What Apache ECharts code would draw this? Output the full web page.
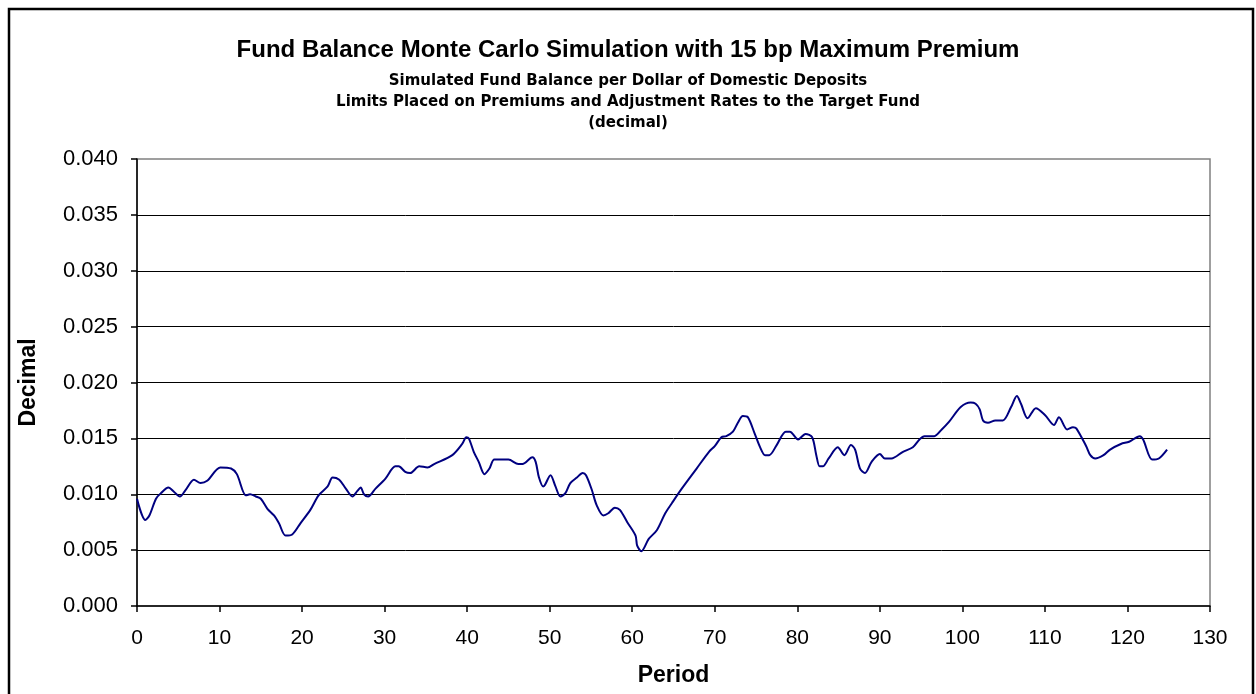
<!DOCTYPE html>
<html>
<head>
<meta charset="utf-8">
<script src="https://cdn.jsdelivr.net/npm/echarts@6/dist/echarts.min.js"></script>
<style>
  html, body { margin: 0; padding: 0; background: #fff; }
  #chart { width: 1256px; height: 694px; }
</style>
</head>
<body>
<div id="chart"></div>
<script>
// period and simulated fund balance
var periods = [0, 1, 1.5, 2.3, 2.9, 3.8, 4.5, 5.2, 5.9, 6.9, 7.7, 8.5, 10.1, 11.4, 12.1, 13.2, 13.7, 14.4, 15, 15.8,
  16.6, 17.2, 18, 18.8, 19.8, 21, 22, 23.1, 23.7, 24.5, 25.3, 26.1, 26.7, 27.1, 27.5, 28, 28.9, 30.1, 31.3, 31.7,
  32.5, 33.1, 34.2, 35.2, 36, 38.2, 39.4, 39.9, 40.2, 40.8, 41.4, 42.1, 42.7, 43.3, 45, 46.2, 46.7, 47.9, 48.3, 48.7,
  49.2, 49.4, 50.1, 50.7, 51.3, 51.9, 52.5, 53.3, 54, 54.4, 55.1, 55.7, 56.5, 57.1, 57.9, 58.5, 59.4, 60.4, 60.6, 61.1,
  62, 63, 64, 64.8, 66, 67.8, 69.3, 70, 70.8, 71.4, 72.2, 72.8, 73.4, 74, 74.8, 75.5, 76.1, 76.6, 77.5, 78.6,
  79.1, 80.1, 81, 81.8, 82.3, 82.7, 83.1, 83.8, 84.9, 85.7, 86.5, 87, 87.6, 88.2, 89, 90, 90.6, 91.4, 92.8, 94,
  94.8, 95.4, 96.6, 97.5, 98.4, 99.8, 101, 101.6, 102.1, 102.5, 103.1, 104, 104.9, 105.9, 106.6, 107.1, 107.9, 108.9, 110, 111.1,
  111.7, 112.7, 113.4, 113.8, 115, 115.5, 116.1, 117.1, 117.9, 119.2, 120.2, 121.5, 121.9, 123, 123.8, 124.8];
var balance = [0.0096, 0.0077, 0.0081, 0.0096, 0.0101, 0.0106, 0.0102, 0.0098, 0.0104, 0.0113, 0.0110, 0.0112, 0.0124, 0.0123, 0.0118, 0.0099, 0.0100, 0.0098, 0.0096, 0.0087,
  0.0081, 0.0074, 0.0063, 0.0064, 0.0074, 0.0086, 0.0099, 0.0107, 0.0115, 0.0113, 0.0105, 0.0098, 0.0103, 0.0106, 0.0100, 0.0098, 0.0105, 0.0114, 0.0125, 0.0125,
  0.0120, 0.0119, 0.0125, 0.0124, 0.0127, 0.0135, 0.0145, 0.0151, 0.0150, 0.0138, 0.0129, 0.0118, 0.0123, 0.0131, 0.0131, 0.0127, 0.0127, 0.0133, 0.0129, 0.0115,
  0.0107, 0.0108, 0.0117, 0.0107, 0.0098, 0.0101, 0.0110, 0.0115, 0.0119, 0.0117, 0.0104, 0.0090, 0.0081, 0.0083, 0.0088, 0.0086, 0.0075, 0.0063, 0.0054, 0.0049,
  0.0060, 0.0068, 0.0083, 0.0092, 0.0105, 0.0123, 0.0138, 0.0143, 0.0151, 0.0152, 0.0156, 0.0164, 0.0170, 0.0169, 0.0155, 0.0142, 0.0135, 0.0135, 0.0144, 0.0156,
  0.0156, 0.0149, 0.0154, 0.0151, 0.0135, 0.0125, 0.0125, 0.0132, 0.0142, 0.0135, 0.0144, 0.0140, 0.0123, 0.0119, 0.0129, 0.0136, 0.0132, 0.0132, 0.0138, 0.0142,
  0.0149, 0.0152, 0.0152, 0.0158, 0.0165, 0.0178, 0.0182, 0.0181, 0.0176, 0.0166, 0.0164, 0.0166, 0.0166, 0.0178, 0.0188, 0.0181, 0.0168, 0.0177, 0.0171, 0.0162,
  0.0169, 0.0158, 0.0160, 0.0159, 0.0143, 0.0135, 0.0132, 0.0135, 0.0140, 0.0145, 0.0147, 0.0152, 0.0149, 0.0131, 0.0132, 0.0140];

var mainTitle = 'Fund Balance Monte Carlo Simulation with 15 bp Maximum Premium';
var subTitles = [
  'Simulated Fund Balance per Dollar of Domestic Deposits',
  'Limits Placed on Premiums and Adjustment Rates to the Target Fund',
  '(decimal)'
];

var seriesData = [];
for (var i = 0; i < periods.length; i++) {
  seriesData.push([periods[i], balance[i]]);
}

var myChart = echarts.init(document.getElementById('chart'), null, { renderer: 'canvas' });
var font = 'Liberation Sans, Arial, sans-serif';
var option = {
  backgroundColor: '#fff',
  animation: false,
  title: [{
    text: mainTitle,
    left: 'center',
    top: 33,
    textStyle: { fontFamily: font, fontSize: 24, fontWeight: 'bold', color: '#000' }
  }, {
    text: subTitles.join('\n'),
    left: 'center',
    top: 66,
    textStyle: { fontFamily: 'DejaVu Sans', fontSize: 15, fontWeight: 'bold', color: '#000', lineHeight: 21, align: 'center' }
  }],
  graphic: [{
    type: 'rect',
    shape: { x: 9, y: 9, width: 1244, height: 700 },
    style: { fill: 'none', stroke: '#000', lineWidth: 2.5 },
    silent: true
  }],
  grid: {
    left: 137, right: 46, top: 159, bottom: 88,
    show: true, borderColor: '#808080', borderWidth: 1.5, backgroundColor: 'transparent'
  },
  xAxis: {
    type: 'value',
    min: 0, max: 130, interval: 10,
    name: 'Period',
    nameLocation: 'middle',
    nameGap: 58,
    nameTextStyle: { fontFamily: font, fontSize: 23, fontWeight: 'bold', color: '#000' },
    axisLine: { lineStyle: { color: '#000', width: 1.5 } },
    axisTick: { length: 6, lineStyle: { color: '#000', width: 1.5 } },
    axisLabel: { fontFamily: font, fontSize: 21, color: '#000', margin: 22 },
    splitLine: { show: false }
  },
  yAxis: {
    type: 'value',
    min: 0, max: 0.04, interval: 0.005,
    name: 'Decimal',
    nameLocation: 'middle',
    nameGap: 97,
    nameRotate: 90,
    nameTextStyle: { fontFamily: font, fontSize: 23, fontWeight: 'bold', color: '#000' },
    axisLine: { show: true, lineStyle: { color: '#000', width: 1.5 } },
    axisTick: { show: true, length: 6, lineStyle: { color: '#000', width: 1.5 } },
    axisLabel: {
      fontFamily: font, fontSize: 22, color: '#000', margin: 19,
      formatter: function (v) { return v.toFixed(3); }
    },
    splitLine: { show: true, showMinLine: false, showMaxLine: false, lineStyle: { color: '#000', width: 1 } }
  },
  series: [{
    type: 'line',
    data: seriesData,
    smooth: 0.3,
    showSymbol: false,
    lineStyle: { color: '#000080', width: 2 },
    itemStyle: { color: '#000080' }
  }]
};
myChart.setOption(option);
window.onresize = myChart.resize;
</script>
</body>
</html>
